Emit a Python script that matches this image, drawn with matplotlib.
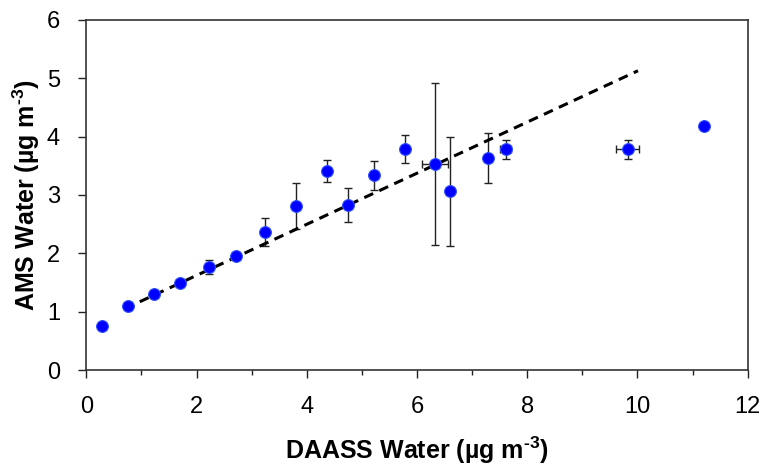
import matplotlib
matplotlib.use("Agg")
import matplotlib.pyplot as plt
import numpy as np

plt.rcParams['font.family'] = ['Liberation Sans', 'DejaVu Sans']
plt.rcParams['mathtext.fontset'] = 'custom'
plt.rcParams['mathtext.rm'] = 'Liberation Sans:bold'
plt.rcParams['mathtext.bf'] = 'Liberation Sans:bold'
plt.rcParams['mathtext.default'] = 'bf'

# Data (DAASS water vs AMS water, µg m-3)
daass = [0.28, 0.76, 1.23, 1.70, 2.23, 2.71, 3.24, 3.80, 4.37, 4.74, 5.22, 5.78, 6.33, 6.60, 7.29, 7.61, 9.82, 11.21]
ams = [0.76, 1.10, 1.30, 1.49, 1.76, 1.95, 2.36, 2.81, 3.41, 2.83, 3.34, 3.78, 3.53, 3.06, 3.64, 3.78, 3.78, 4.19]
ams_err = [0, 0, 0, 0.03, 0.12, 0.02, 0.24, 0.40, 0.19, 0.29, 0.25, 0.24, 1.39, 0.94, 0.43, 0.16, 0.16, 0]
daass_err = [0, 0, 0, 0, 0, 0, 0, 0, 0, 0, 0, 0, 0.23, 0, 0, 0.10, 0.20, 0]

# Fit line endpoints
fit_x = [0.97, 10.01]
fit_y = [1.17, 5.13]

fig = plt.figure(figsize=(7.67, 4.67), dpi=100)
ax = fig.add_axes([0.1125, 0.2077, 0.8623, 0.7495])

ax.errorbar(daass, ams, yerr=ams_err, xerr=daass_err, fmt='none',
            ecolor='#222222', elinewidth=1.0, capsize=3, capthick=1.0, zorder=2)
ax.plot(fit_x, fit_y, linestyle=(0, (3.2, 2.2)), color='black', linewidth=2.2, zorder=3)
ax.plot(daass, ams, 'o', color='#0000ff', markersize=8.5, markeredgecolor='#3050ff',
        markeredgewidth=0.8, zorder=4)

ax.set_xlim(0, 12)
ax.set_ylim(0, 6)
ax.set_xticks(np.arange(0, 13, 2))
ax.set_xticks(np.arange(1, 12, 2), minor=True)
ax.set_yticks(np.arange(0, 7, 1))

ax.tick_params(axis='both', which='major', direction='out', length=6, width=1,
               labelsize=17, color='#222222')
ax.tick_params(axis='x', which='minor', direction='out', length=3.6, width=1, color='#222222')
ax.tick_params(axis='x', which='major', pad=13)
ax.tick_params(axis='y', which='major', pad=13)

for s in ax.spines.values():
    s.set_linewidth(1.2)
    s.set_color('#333333')

ax.set_xlabel(r'DAASS Water (µg m$^{\text{-3}}$)', fontsize=18, fontweight='bold', labelpad=12)
ax.set_ylabel(r'AMS Water (µg m$^{\text{-3}}$)', fontsize=18, fontweight='bold', labelpad=3)

fig.savefig('out.png', dpi=100)
